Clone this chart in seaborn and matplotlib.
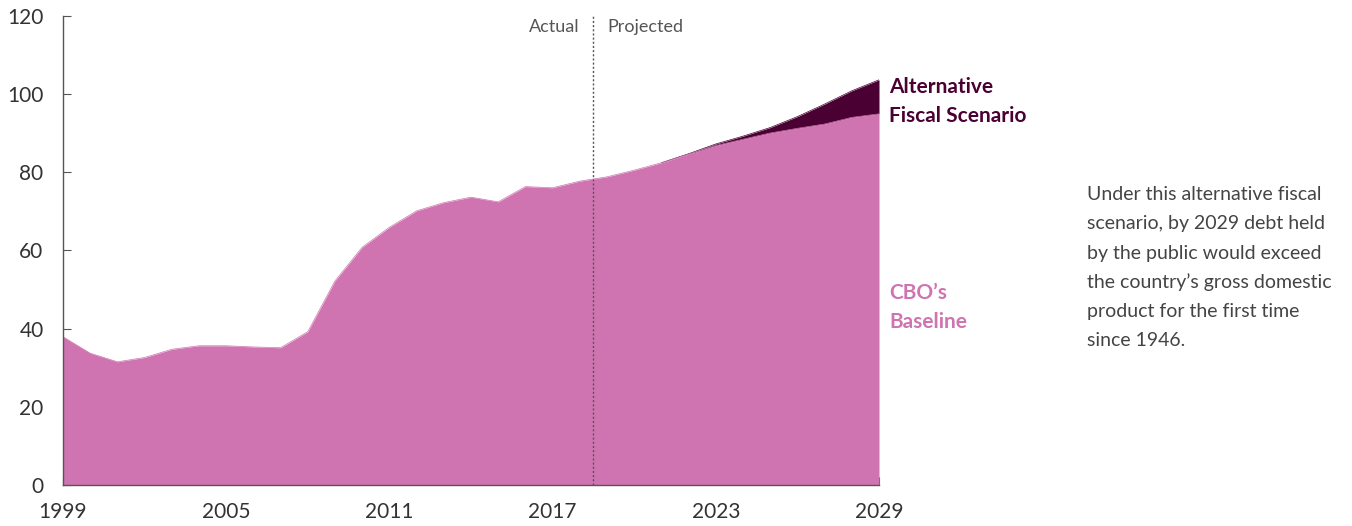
import matplotlib
matplotlib.use("Agg")
import matplotlib.pyplot as plt
import seaborn as sns
import numpy as np
import pandas as pd

years = list(range(1999, 2030))
baseline = [37.9, 33.7, 31.5, 32.6, 34.7, 35.6, 35.6, 35.3, 35.1, 39.2,
            52.2, 60.8, 65.9, 70.1, 72.2, 73.6, 72.4, 76.3, 76.0, 77.7,
            78.8, 80.5, 82.4, 84.6, 86.8, 88.4, 90.0, 91.2, 92.3, 94.0, 94.9]
alternative = [37.9, 33.7, 31.5, 32.6, 34.7, 35.6, 35.6, 35.3, 35.1, 39.2,
               52.2, 60.8, 65.9, 70.1, 72.2, 73.6, 72.4, 76.3, 76.0, 77.7,
               78.8, 80.5, 82.4, 84.7, 87.2, 89.2, 91.4, 94.2, 97.4, 100.8, 103.6]
x_ticks = [1999, 2005, 2011, 2017, 2023, 2029]
y_ticks = [0, 20, 40, 60, 80, 100, 120]
split_year = 2018.5
diverge_year = 2021

pink = "#CF74B0"
dark = "#4A0033"
gray = "#555555"

sns.set_style("ticks")
plt.rcParams["font.family"] = ["Lato", "DejaVu Sans"]

df = pd.DataFrame({"year": years, "baseline": baseline, "alternative": alternative})
proj = df[df["year"] >= diverge_year]

fig = plt.figure(figsize=(13.52, 5.26), dpi=100)
ax = fig.add_axes([63 / 1352, 1 - 485 / 526, (879 - 63) / 1352, (485 - 15.7) / 526])

sns.lineplot(data=proj, x="year", y="alternative", ax=ax, color=dark, linewidth=0.5, zorder=1)
ax.fill_between(df["year"], df["baseline"], df["alternative"], color=dark, linewidth=0, zorder=2)
ax.fill_between(df["year"], 0, df["baseline"], color=pink, linewidth=0, zorder=3)
sns.lineplot(data=df, x="year", y="baseline", ax=ax, color=pink, linewidth=0.5, zorder=3)

ax.axvline(split_year, color=gray, linestyle=(0, (1.5, 1.5)), linewidth=1.0, zorder=4)
ax.text(split_year - 0.5, 117, "Actual", ha="right", va="center", fontsize=13, color=gray)
ax.text(split_year + 0.5, 117, "Projected", ha="left", va="center", fontsize=13, color=gray)

ax.set_xlim(1999, 2029)
ax.set_ylim(0, 120)
ax.set_xticks(x_ticks)
ax.set_yticks(y_ticks)
ax.set_xlabel("")
ax.set_ylabel("")
sns.despine(ax=ax)
for s in ["left", "bottom"]:
    ax.spines[s].set_color(gray)
    ax.spines[s].set_linewidth(1.0)
    ax.spines[s].set_zorder(5)
ax.tick_params(axis="both", direction="in", length=6, color=gray, labelcolor="#333333",
               labelsize=15)
ax.tick_params(axis="x", pad=12)
ax.tick_params(axis="y", pad=14)

fig.text(889 / 1352, 1 - 87 / 526, "Alternative", ha="left", va="center", fontsize=15,
         fontweight="bold", color=dark)
fig.text(889 / 1352, 1 - 116 / 526, "Fiscal Scenario", ha="left", va="center", fontsize=15,
         fontweight="bold", color=dark)
fig.text(889 / 1352, 1 - 293 / 526, "CBO\u2019s", ha="left", va="center", fontsize=15,
         fontweight="bold", color=pink)
fig.text(889 / 1352, 1 - 322 / 526, "Baseline", ha="left", va="center", fontsize=15,
         fontweight="bold", color=pink)

note = ["Under this alternative fiscal", "scenario, by 2029 debt held",
        "by the public would exceed", "the country\u2019s gross domestic",
        "product for the first time", "since 1946."]
for i, line in enumerate(note):
    fig.text(1087 / 1352, 1 - (195 + 29 * i) / 526, line, ha="left", va="center",
             fontsize=14, color="#444444")

fig.savefig("out.png", dpi=100)
